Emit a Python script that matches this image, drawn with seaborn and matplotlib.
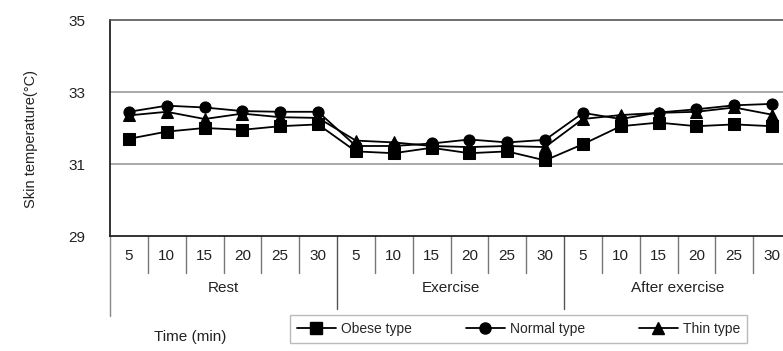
import pandas as pd
import matplotlib.pyplot as plt
import seaborn as sns

# данные
minutes = ['5', '10', '15', '20', '25', '30']
phases = ['Rest', 'Exercise', 'After exercise']
obese = [31.7, 31.9, 32.0, 31.95, 32.05, 32.1,
         31.35, 31.3, 31.45, 31.3, 31.35, 31.1,
         31.55, 32.05, 32.15, 32.05, 32.1, 32.05]
normal = [32.45, 32.62, 32.57, 32.47, 32.45, 32.45,
          31.5, 31.5, 31.57, 31.68, 31.6, 31.67,
          32.42, 32.25, 32.43, 32.52, 32.63, 32.67]
thin = [32.35, 32.45, 32.25, 32.4, 32.3, 32.28,
        31.65, 31.6, 31.5, 31.47, 31.5, 31.47,
        32.25, 32.36, 32.42, 32.45, 32.57, 32.37]
types = ['Obese type', 'Normal type', 'Thin type']

n = len(obese)
df = pd.DataFrame({
    'pos': list(range(n)) * 3,
    'temp': obese + normal + thin,
    'type': [t for t in types for _ in range(n)],
})

sns.set_style('white')
plt.rcParams['font.family'] = ['Liberation Sans', 'DejaVu Sans']

fig = plt.figure(figsize=(7.83, 3.51), dpi=100)
ax = fig.add_axes([110 / 783, 1 - 236 / 351, 681 / 783, 216 / 351])

sns.lineplot(data=df, x='pos', y='temp', hue='type', style='type',
             palette=['black'] * 3, markers={'Obese type': 's', 'Normal type': 'o', 'Thin type': '^'},
             dashes=False, markersize=8, linewidth=1.3, markeredgecolor='black',
             legend=False, ax=ax)

ax.set_xlim(-0.5, n - 0.5)
ax.set_ylim(29, 35)
ax.set_yticks([29, 31, 33, 35])
ax.set_yticklabels(['29', '31', '33', '35'], fontsize=11, color='#222222')
ax.tick_params(axis='y', length=0, pad=18)
for v in [31, 33]:
    ax.axhline(v, color='#999999', lw=1.2, zorder=0)

ax.set_xticks(range(n))
ax.set_xticklabels(minutes * 3, fontsize=11, color='#222222')
ax.tick_params(axis='x', length=0, pad=9)
ax.set_xlabel('')
ax.set_ylabel('Skin temperature(\u00b0C)', fontsize=10.5, color='#222222', labelpad=22)
ax.yaxis.set_label_coords(-0.105, 0.45)

for s in ['left', 'bottom']:
    ax.spines[s].set_color('#222222')
    ax.spines[s].set_linewidth(1.3)
ax.spines['top'].set_color('#555555')
ax.spines['top'].set_linewidth(1.2)
ax.spines['right'].set_visible(False)

# разделители под осью
tr = ax.get_xaxis_transform()
for i in range(1, n):
    if i % 6 == 0:
        ax.plot([i - 0.5, i - 0.5], [0, -0.34], color='#555555', lw=1, transform=tr, clip_on=False)
    else:
        ax.plot([i - 0.5, i - 0.5], [0, -0.17], color='#777777', lw=1, transform=tr, clip_on=False)
ax.plot([-0.5, -0.5], [0, -0.37], color='#888888', lw=1, transform=tr, clip_on=False)

for k, ph in enumerate(phases):
    ax.text(k * 6 + 2.5, -0.24, ph, transform=tr, ha='center', va='center',
            fontsize=11, color='#222222')

fig.text(190 / 783, 1 - 337 / 351, 'Time (min)', ha='center', va='center',
         fontsize=11, color='#222222')

handles = [plt.Line2D([], [], color='black', marker=m, markersize=8, lw=1.3)
           for m in ['s', 'o', '^']]
fig.legend(handles, types, loc='lower left', bbox_to_anchor=(283 / 783, 1 / 351),
           ncol=3, frameon=True, fancybox=False, edgecolor='#aaaaaa', fontsize=10,
           handlelength=2.8, handletextpad=0.4, columnspacing=3.85, borderpad=0.5)

plt.savefig('out.png', dpi=100)
